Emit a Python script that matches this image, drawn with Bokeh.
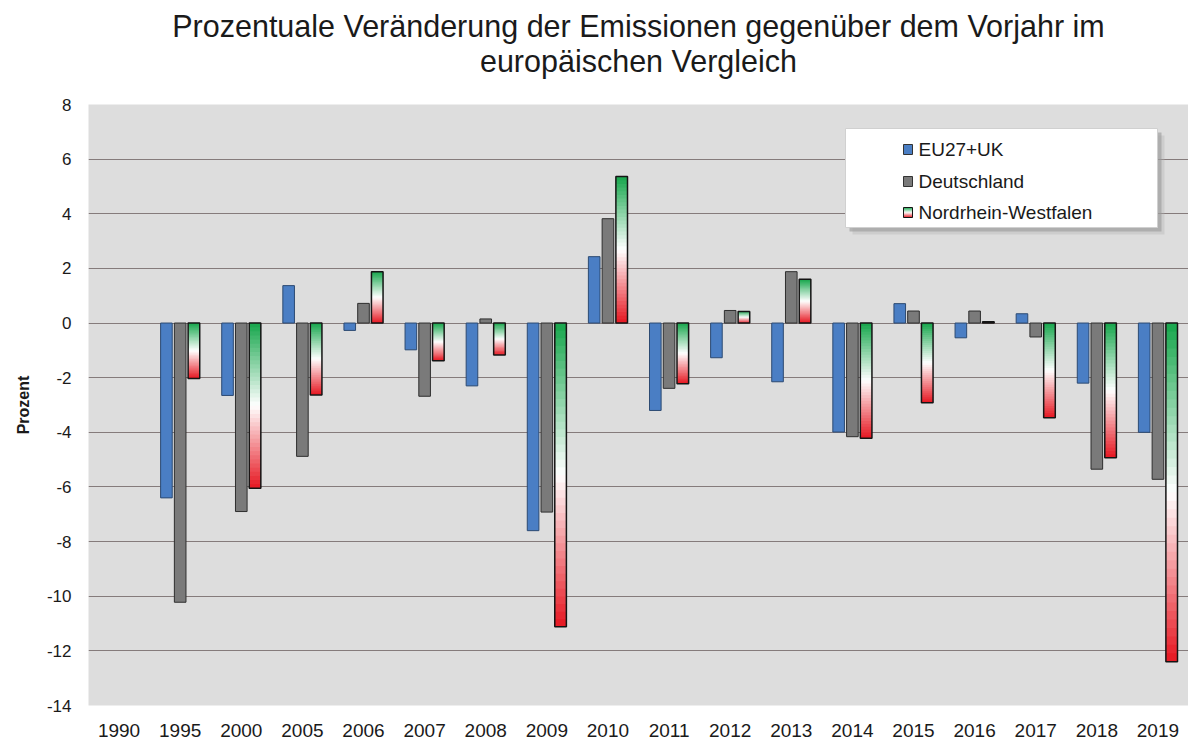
from bokeh.plotting import figure
from bokeh.models import (Range1d, FactorRange, Title, BoxAnnotation, Label,
                          ColumnDataSource, FixedTicker)
from bokeh.transform import dodge
from bokeh.embed import file_html
from bokeh.resources import INLINE

NaN = float("nan")

# ---------------- data ----------------
years = ["1990", "1995", "2000", "2005", "2006", "2007", "2008", "2009", "2010",
         "2011", "2012", "2013", "2014", "2015", "2016", "2017", "2018", "2019"]
eu27_uk = [NaN, -6.40, -2.65, 1.37, -0.27, -0.98, -2.30, -7.60, 2.43,
           -3.20, -1.27, -2.15, -3.99, 0.71, -0.54, 0.34, -2.20, -4.00]
deutschland = [NaN, -10.22, -6.90, -4.88, 0.72, -2.68, 0.15, -6.92, 3.82,
               -2.39, 0.46, 1.88, -4.16, 0.44, 0.44, -0.51, -5.35, -5.72]
nrw = [NaN, -2.03, -6.05, -2.63, 1.88, -1.38, -1.17, -11.12, 5.36,
       -2.22, 0.42, 1.60, -4.22, -2.92, 0.05, -3.47, -4.93, -12.40]
series_names = ["EU27+UK", "Deutschland", "Nordrhein-Westfalen"]
title_text = ("Prozentuale Veränderung der Emissionen gegenüber dem Vorjahr im\n"
              "europäischen Vergleich")
y_ticks = [-14, -12, -10, -8, -6, -4, -2, 0, 2, 4, 6, 8]
y_label = "Prozent"

# ---------------- style ----------------
FONT = "Liberation Sans"
BLUE = "#4a7ec4"
GRAY = "#7a7a7a"
GREEN = (22, 166, 76)
WHITE = (255, 255, 255)
RED = (230, 22, 32)
BAR_W = 0.19
OFFS = [-0.225, 0.0, 0.225]
N_SLICES = 40
FRAME_W = 1100


def grad_color(t):
    """t=0 top (green) -> 0.5 white -> 1 bottom (red)"""
    if t < 0.5:
        s = t / 0.5
        a, b = GREEN, WHITE
    else:
        s = (t - 0.5) / 0.5
        a, b = WHITE, RED
    c = [int(round(a[i] + (b[i] - a[i]) * s)) for i in range(3)]
    return "#%02x%02x%02x" % tuple(c)


p = figure(width=88 + FRAME_W, height=746, title=None,
           x_range=FactorRange(factors=years, range_padding=0),
           y_range=Range1d(-14, 8),
           output_backend="svg", toolbar_location=None,
           min_border_left=88, min_border_right=0,
           min_border_top=104, min_border_bottom=41)

p.background_fill_color = "#dddddd"
p.border_fill_color = "white"
p.outline_line_color = None

# spacer between frame and title (closest to the frame), then the title
spacer = Title(text=" ", text_font_size="1px", standoff=18)
p.add_layout(spacer, "above")
title = Title(text=title_text, align="center", text_font=FONT,
              text_font_size="30.5px", text_font_style="normal",
              text_line_height=1.05, text_color="#1a1a1a", standoff=10)
try:
    title.text_align = "center"
except Exception:
    pass
p.add_layout(title, "above")

# bars
src = ColumnDataSource(dict(year=years, eu=eu27_uk, de=deutschland, nrw=nrw))
p.vbar(x=dodge("year", OFFS[0], range=p.x_range), top="eu", bottom=0,
       width=BAR_W, source=src, fill_color=BLUE, line_color="#2c4a72",
       line_width=1)
p.vbar(x=dodge("year", OFFS[1], range=p.x_range), top="de", bottom=0,
       width=BAR_W, source=src, fill_color=GRAY, line_color="#2e2e2e",
       line_width=1)

# NRW gradient bars built from overlapping slices
sy, stop, sbot, scol = [], [], [], []
for yr, v in zip(years, nrw):
    if v != v:
        continue
    hi, lo = max(v, 0.0), min(v, 0.0)
    if hi == lo:
        continue
    h = (hi - lo) / N_SLICES
    for k in range(N_SLICES):
        sy.append(yr)
        stop.append(hi - k * h)
        sbot.append(max(lo, hi - (k + 1.6) * h))
        scol.append(grad_color((k + 0.5) / N_SLICES))
gsrc = ColumnDataSource(dict(year=sy, top=stop, bottom=sbot, color=scol))
p.vbar(x=dodge("year", OFFS[2], range=p.x_range), top="top", bottom="bottom",
       width=BAR_W, source=gsrc, fill_color="color", line_color=None)
p.vbar(x=dodge("year", OFFS[2], range=p.x_range), top="nrw", bottom=0,
       width=BAR_W, source=src, fill_color=None, line_color="#141414",
       line_width=1.5)

# axes and grid
ticker = FixedTicker(ticks=y_ticks)
p.yaxis.ticker = ticker
p.ygrid.ticker = ticker
p.ygrid.grid_line_color = "#857b7b"
p.ygrid.grid_line_width = 1.2
p.xgrid.grid_line_color = None

p.yaxis.major_label_overrides = {t: str(t) for t in y_ticks}
p.yaxis.axis_label = y_label
p.yaxis.axis_label_text_font = FONT
p.yaxis.axis_label_text_font_size = "16px"
p.yaxis.axis_label_text_font_style = "bold"
p.yaxis.axis_label_text_color = "#1a1a1a"
p.yaxis.axis_label_standoff = 12
p.yaxis.major_label_text_font = FONT
p.yaxis.major_label_text_font_size = "17px"
p.yaxis.major_label_text_color = "#1a1a1a"
p.yaxis.major_label_standoff = 11
p.yaxis.axis_line_color = None
p.yaxis.major_tick_line_color = None
p.yaxis.minor_tick_line_color = None

p.xaxis.major_label_text_font = FONT
p.xaxis.major_label_text_font_size = "19px"
p.xaxis.major_label_text_color = "#1a1a1a"
p.xaxis.major_label_standoff = 12
p.xaxis.axis_line_color = None
p.xaxis.major_tick_line_color = None
p.xaxis.minor_tick_line_color = None

# manual legend (screen units, relative to the plot frame)
LX0, LX1, LY0, LY1 = 757, 1069, 478, 577


def box(l, r, b, t, color, alpha=1.0, line=None):
    return BoxAnnotation(left=l, right=r, bottom=b, top=t,
                         left_units="screen", right_units="screen",
                         bottom_units="screen", top_units="screen",
                         fill_color=color, fill_alpha=alpha,
                         line_color=line, line_alpha=1.0 if line else 0.0,
                         line_width=1)


p.add_layout(box(LX0 + 7, LX1 + 7, LY0 - 7, LY1 - 7, "#b0b0b0", 0.35))
p.add_layout(box(LX0 + 4, LX1 + 4, LY0 - 4, LY1 - 4, "#9a9a9a", 0.6))
p.add_layout(box(LX0, LX1, LY0, LY1, "#ffffff", 1.0, "#d0d0d0"))

row_y = [556, 524, 493]
icon_x0, icon_x1 = 815, 824
icon_colors = [BLUE, GRAY, None]
for name, cy, ic in zip(series_names, row_y, icon_colors):
    if ic is not None:
        p.add_layout(box(icon_x0, icon_x1, cy - 5, cy + 5, ic, 1.0, "#333333"))
    else:
        n = 10
        for k in range(n):
            p.add_layout(box(icon_x0, icon_x1, max(cy - 5, cy + 5 - (k + 2)),
                             cy + 5 - k, grad_color((k + 0.5) / n), 1.0))
        p.add_layout(box(icon_x0, icon_x1, cy - 5, cy + 5, "#ffffff", 0.0,
                         "#141414"))
    p.add_layout(Label(x=icon_x1 + 6, y=cy, x_units="screen",
                       y_units="screen", text=name, text_font=FONT,
                       text_font_size="19px", text_color="#1a1a1a",
                       text_baseline="alphabetic"))

open("out.html", "w").write(file_html(p, INLINE))
